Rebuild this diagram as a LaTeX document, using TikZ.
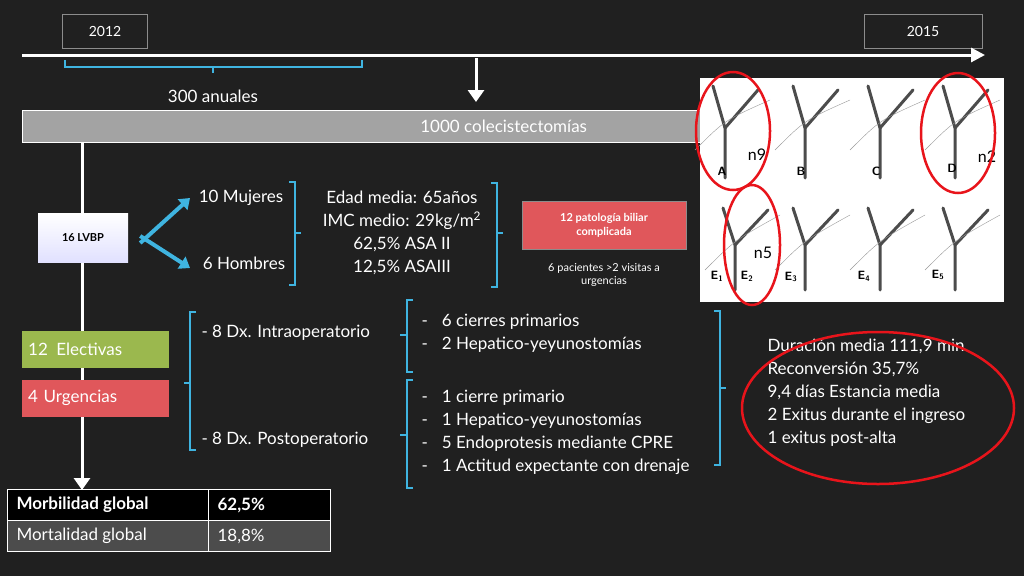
\documentclass[tikz,border=0pt]{standalone}
\usepackage{fontspec}
\setmainfont{Lato}
\usetikzlibrary{decorations.pathreplacing, arrows.meta, calc}
\definecolor{BOARD}{HTML}{202020}
\definecolor{SKY}{HTML}{3FB4E0}
\definecolor{ROJO}{HTML}{E0575B}
\definecolor{OLIVA}{HTML}{9BB84E}
\definecolor{GRIS}{HTML}{8C8C8C}
\definecolor{RING}{HTML}{E8141B}
\tikzset{
  txt/.style={text=white, font=\fontsize{17}{20}\selectfont},
  small/.style={text=white, font=\fontsize{11}{13}\selectfont, align=center},
  yearbox/.style={draw=GRIS, fill=BOARD, text=white, minimum width=85pt, minimum height=34pt, font=\fontsize{14}{16}\selectfont},
  colbox/.style={text=white, minimum width=147pt, minimum height=37pt, anchor=west, font=\fontsize{17}{20}\selectfont, inner sep=6pt, text width=135pt},
  sbr/.style={SKY, line width=1.6pt},
  whitearrow/.style={white, line width=3pt, -{Triangle[length=12pt, width=16pt]}},
  duct/.style={draw=black!70, line width=3pt, line cap=round},
  ring/.style={RING, line width=2.5pt},
}
\begin{document}
\begin{tikzpicture}[x=1pt, y=-1pt]
    \fill[BOARD] (0,0) rectangle (1024,576);
    \useasboundingbox (0,0) rectangle (1024,576);
    % timeline
    \node[yearbox] (y2012) at (105,31) {2012};
    \node[yearbox, minimum width=118pt] (y2015) at (923,31) {2015};
    \coordinate (tl0) at (22,55);
    \coordinate (tl1) at (985,55);
    \draw[white, line width=3pt, -{Triangle[length=14pt, width=14pt]}] (tl0) -- (tl1);
    \draw[sbr] (65,60) -- (65,67) -- (362,67) -- (362,60) (213,67) -- (213,73);
    \node[txt] (anual) at (213,96) {300 anuales};
    \coordinate (d0) at (476,58);
    \coordinate (d1) at (476,102);
    \draw[whitearrow] (d0) -- (d1);
    \node[fill=GRIS!80, draw=white!70, minimum width=678pt, minimum height=32pt, anchor=west, txt] (cole) at (22,126) {\hspace{285pt}1000 colecistectomías};
    % main spine
    \coordinate (sp1) at (82,490);
    \draw[whitearrow] (cole.south -| sp1) -- (sp1);
    \node[top color=white, bottom color=blue!12, minimum width=90pt, minimum height=49pt, font=\bfseries\fontsize{11}{13}\selectfont] (lvbp) at (83,238) {16 LVBP};
    \node[txt] (muj) at (241,198) {10 Mujeres};
    \node[txt] (hom) at (244,263) {6 Hombres};
    \draw[SKY, line width=4pt, -{Triangle[length=10pt, width=14pt]}] ([xshift=12pt,yshift=-5pt]lvbp.east) -- (190,198);
    \draw[SKY, line width=4pt, -{Triangle[length=10pt, width=14pt]}] ([xshift=12pt,yshift=2pt]lvbp.east) -- (190,268);
    \draw[sbr] (289,182) -- (295,182) -- (295,285) -- (289,285) (295,233) -- (301,233);
    \node[txt, align=center, font=\fontsize{17}{23}\selectfont] (edad) at (402,233) {Edad media: 65años\\IMC medio: 29kg/m\textsuperscript{2}\\62,5\% ASA II\\12,5\% ASAIII};
    \draw[sbr] (491,183) -- (497,183) -- (497,287) -- (491,287) (497,233) -- (503,233);
    \node[fill=ROJO, draw=GRIS, minimum width=164pt, minimum height=48pt, small, font=\bfseries\fontsize{11}{14}\selectfont] (pbc) at (604,225) {12 patología biliar\\complicada};
    \node[small] (visit) at (604,275) {6 pacientes >2 visitas a\\urgencias};
    % tipos de ingreso
    \node[colbox, fill=OLIVA] (elec) at (22,349) {12\, Electivas};
    \node[colbox, fill=ROJO] (urg) at (22,398) {4 Urgencias};
    \draw[sbr] (196,312) -- (190,312) -- (190,450) -- (196,450) (190,383) -- (184,383);
    \node[txt, anchor=west] (intra) at (198,333) {- 8 Dx. Intraoperatorio};
    \node[txt, anchor=west] (post) at (198,440) {- 8 Dx. Postoperatorio};
    \draw[sbr] (413,300) -- (407,300) -- (407,372) -- (413,372) (407,335) -- (400,335);
    \draw[sbr] (413,380) -- (407,380) -- (407,488) -- (413,488) (407,435) -- (400,435);
    \foreach \yy/\tt in {322/6 cierres primarios, 345/2 Hepatico-yeyunostomías,
                         398/1 cierre primario, 421/1 Hepatico-yeyunostomías,
                         444/5 Endoprotesis mediante CPRE, 467/1 Actitud expectante con drenaje}
        \node[txt, anchor=west] at (418,\yy) {-\hspace{14pt}\tt};
    \draw[sbr] (714,311) -- (720,311) -- (720,465) -- (714,465) (720,388) -- (726,388);
    \node[txt, anchor=west, align=left, font=\fontsize{17}{23}\selectfont] (dur) at (764,393) {Duración media 111,9 min\\Reconversión 35,7\%\\9,4 días Estancia media\\2 Exitus durante el ingreso\\1 exitus post-alta};
    \draw[ring] (878,408) ellipse [x radius=136pt, y radius=76pt];
    % tabla
    \fill[black] (7,489) rectangle (330,520);
    \fill[black!70] (7,520) rectangle (330,551);
    \draw[white!80, thick] (7,489) rectangle (330,551) (7,520) -- (330,520) (208,489) -- (208,551);
    \node[txt, anchor=west, font=\bfseries\fontsize{17}{20}\selectfont] (morb) at (13,505) {Morbilidad global};
    \node[txt, anchor=west, font=\bfseries\fontsize{17}{20}\selectfont] (morbv) at (214,505) {62,5\%};
    \node[txt, anchor=west] (mort) at (13,536) {Mortalidad global};
    \node[txt, anchor=west] (mortv) at (214,536) {18,8\%};
    % clasificacion de Strasberg
    \fill[white] (700,78) rectangle (1004,302);
    \foreach \cx in {725,805,880,955} {
        \draw[duct] (\cx,178) -- (\cx,128) -- (\cx-12,86);
        \draw[duct] (\cx,128) -- (\cx+33,90);
        \draw[black!40, thin] (\cx-30,150) .. controls (\cx,120) .. (\cx+45,100);
    }
    \foreach \cx in {735,805,880,955} {
        \draw[duct] (\cx,290) -- (\cx,245) -- (\cx-12,208);
        \draw[duct] (\cx,245) -- (\cx+33,210);
        \draw[black!40, thin] (\cx-30,270) .. controls (\cx,240) .. (\cx+45,215);
    }
    \foreach \lx/\ly/\lt in {722/171/A, 801/171/B, 876/171/C, 952/168/D,
                             717/276/E\textsubscript{1}, 747/276/E\textsubscript{2}, 791/277/E\textsubscript{3}, 864/276/E\textsubscript{4}, 938/275/E\textsubscript{5}}
        \node[font=\bfseries\sffamily\fontsize{12}{13}\selectfont] at (\lx,\ly) {\lt};
    \node[font=\fontsize{16}{16}\selectfont] (n9) at (757,155) {n9};
    \node[font=\fontsize{16}{16}\selectfont] (n2) at (987,157) {n2};
    \node[font=\fontsize{16}{16}\selectfont] (n5) at (763,253) {n5};
    \draw[ring] (733,131) ellipse [x radius=37pt, y radius=59pt];
    \draw[ring] (958,133) ellipse [x radius=37pt, y radius=60pt];
    \draw[ring] (752,245) ellipse [x radius=28pt, y radius=60pt];
\end{tikzpicture}
\end{document}
